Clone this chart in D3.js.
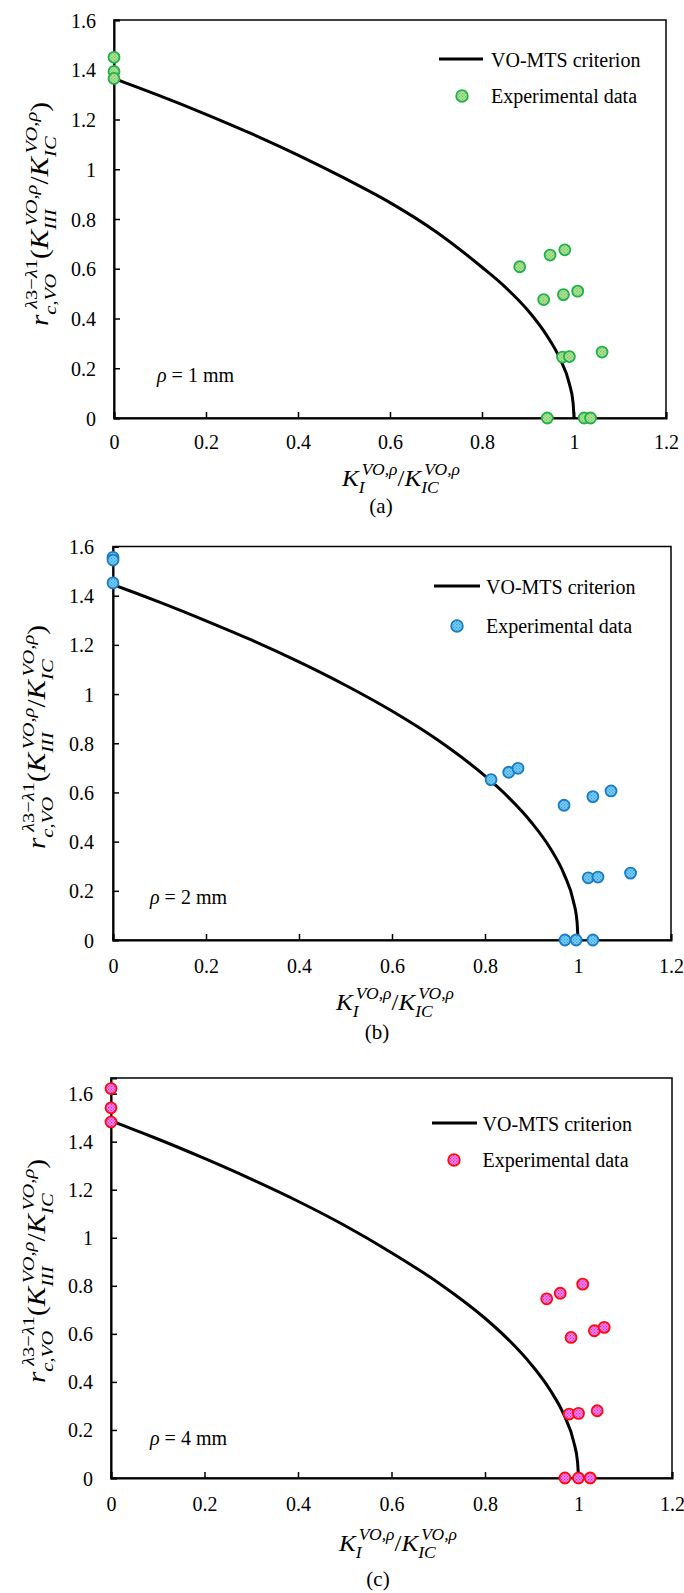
<!DOCTYPE html>
<html><head><meta charset="utf-8">
<script src="https://cdn.jsdelivr.net/npm/d3@7"></script>
<style>body{margin:0;background:#fff}svg{display:block}</style>
</head><body>
<svg id="c" width="684" height="1593" font-family="Liberation Serif"></svg>
<script>
// ---------------- data ----------------
const xTicks = [0, 0.2, 0.4, 0.6, 0.8, 1, 1.2];
const yTicks = [0, 0.2, 0.4, 0.6, 0.8, 1, 1.2, 1.4, 1.6];
const panelTags = ["(a)", "(b)", "(c)"];
const rhoLabels = ["\u03C1 = 1 mm", "\u03C1 = 2 mm", "\u03C1 = 4 mm"];
const legendNames = ["VO-MTS criterion", "Experimental data"];

// VO-MTS criterion curves
const curveX = [0, 0.05, 0.1, 0.2, 0.3, 0.4, 0.5, 0.6, 0.7, 0.8, 0.85, 0.9, 0.94, 0.97, 0.99, 0.998, 1];
const curveA = [1.365, 1.330, 1.295, 1.221, 1.142, 1.057, 0.965, 0.866, 0.749, 0.606, 0.527, 0.432, 0.334, 0.236, 0.137, 0.061, 0];
const curveB = [1.445, 1.410, 1.374, 1.298, 1.218, 1.131, 1.036, 0.931, 0.811, 0.667, 0.581, 0.478, 0.374, 0.268, 0.158, 0.073, 0];
const curveC = [1.487, 1.449, 1.411, 1.330, 1.244, 1.152, 1.051, 0.938, 0.813, 0.665, 0.576, 0.470, 0.364, 0.258, 0.149, 0.066, 0];

// Experimental data
const expAx = [0, 0, 0, 0.882, 0.948, 0.980, 0.934, 0.977, 1.008, 0.975, 0.990, 1.061, 0.942, 1.022, 1.036];
const expAy = [1.45, 1.393, 1.365, 0.608, 0.655, 0.676, 0.476, 0.496, 0.510, 0.245, 0.247, 0.265, 0, 0, 0];
const expBx = [0, 0, 0, 0.813, 0.851, 0.871, 0.970, 1.032, 1.071, 1.022, 1.043, 1.113, 0.972, 0.996, 1.032];
const expBy = [1.556, 1.545, 1.452, 0.652, 0.682, 0.698, 0.548, 0.583, 0.606, 0.253, 0.256, 0.272, 0, 0, 0];
const expCx = [0, 0, 0, 0.932, 0.961, 1.009, 0.984, 1.034, 1.055, 0.980, 1.000, 1.040, 0.971, 1.000, 1.025];
const expCy = [1.621, 1.541, 1.482, 0.746, 0.769, 0.807, 0.585, 0.613, 0.627, 0.266, 0.269, 0.280, 0, 0, 0];

const yMaxes = [1.6, 1.6, 1.665];

// ---------------- drawing ----------------
const FONT = "Liberation Serif";
const svg = d3.select("#c");
svg.append("rect").attr("width", 684).attr("height", 1593).attr("fill", "#fff");
const defs = svg.append("defs");

const palettes = [
  {bg: "#b4e39c", dot: "#72c45a", stroke: "#1fb14a"},
  {bg: "#7ed0f6", dot: "#2f9fdc", stroke: "#1a7cc6"},
  {bg: "#ff84f0", dot: "#c82fc0", stroke: "#ff0a0a"}
];
palettes.forEach((p, i) => {
  const pat = defs.append("pattern").attr("id", "pat" + i)
    .attr("patternUnits", "userSpaceOnUse").attr("width", 3).attr("height", 3);
  pat.append("rect").attr("width", 3).attr("height", 3).attr("fill", p.bg);
  pat.append("rect").attr("x", 0).attr("y", 0).attr("width", 1.2).attr("height", 1.2).attr("fill", p.dot);
  pat.append("rect").attr("x", 1.5).attr("y", 1.5).attr("width", 1.2).attr("height", 1.2).attr("fill", p.dot);
});

function txt(sel) { return sel.attr("font-family", FONT).attr("fill", "#000"); }

// math label: main text with stacked sub/superscripts
function mathLabel(parent, segs, fs) {
  const g = parent.append("g");
  let x = 0, inScript = false, subX = 0, supX = 0;
  segs.forEach(s => {
    const isMain = s.type === "main";
    const size = isMain ? fs : fs * 0.7;
    const dy = s.type === "sub" ? fs * 0.3 : (s.type === "sup" ? -fs * 0.45 : 0);
    let startX;
    if (isMain) {
      if (inScript) { x = Math.max(subX, supX); inScript = false; }
      startX = x;
    } else {
      if (!inScript) { inScript = true; subX = x; supX = x; }
      if (s.type === "sub") startX = subX; else startX = supX + (s.shift || 0);
    }
    const t = txt(g.append("text")).attr("x", startX).attr("y", dy)
      .attr("font-size", size).attr("font-style", s.up ? "normal" : "italic").text(s.t);
    const w = t.node().getComputedTextLength();
    if (isMain) x = startX + w;
    else if (s.type === "sub") subX = startX + w;
    else supX = startX + w;
  });
  if (inScript) x = Math.max(subX, supX);
  return {g, width: x};
}

const panels = [
  {L:114, R:666, T:20, B:418, tickY:442, ylabR:96, yTitX:48, yTitY:214,
   leg:[439,483,59], legTx:491, marker:[462,96], rho:[157,382], xTit:[401,486], tag:[381,513],
   cx:curveX, cy:curveA, ex:expAx, ey:expAy},
  {L:113, R:671, T:546.5, B:940, tickY:966, ylabR:94, yTitX:45, yTitY:737,
   leg:[434,480,586], legTx:486, marker:[457,626], rho:[150,904], xTit:[395,1010], tag:[377,1039],
   cx:curveX, cy:curveB, ex:expBx, ey:expBy},
  {L:111, R:672, T:1078, B:1478, tickY:1504, ylabR:93, yTitX:45, yTitY:1271,
   leg:[432,477,1123], legTx:482.5, marker:[454,1160], rho:[150,1445], xTit:[398,1551], tag:[378,1586],
   cx:curveX, cy:curveC, ex:expCx, ey:expCy}
];

panels.forEach((P, i) => {
  const pal = palettes[i];
  const x = d3.scaleLinear().domain([0, 1.2]).range([P.L, P.R]);
  const y = d3.scaleLinear().domain([0, yMaxes[i]]).range([P.B, P.T]);
  const g = svg.append("g");
  const fmt = d => (d === 0 ? "0" : (d === 1 ? "1" : d3.format(".1f")(d)));

  // frame
  g.append("rect").attr("x", P.L).attr("y", P.T).attr("width", P.R - P.L).attr("height", P.B - P.T)
    .attr("fill", "none").attr("stroke", "#000").attr("stroke-width", 1.5);

  // axes (ticks inside)
  const xa = g.append("g").attr("transform", `translate(0,${P.B})`)
    .call(d3.axisBottom(x).tickValues(xTicks).tickSize(-6).tickFormat(fmt));
  xa.attr("font-family", FONT).attr("font-size", 20);
  xa.select(".domain").attr("stroke-width", 2);
  xa.selectAll(".tick line").attr("stroke-width", 1.5);
  txt(xa.selectAll(".tick text")).attr("font-size", 20)
    .attr("y", P.tickY - P.B).attr("dy", "0.35em");

  const ya = g.append("g").attr("transform", `translate(${P.L},0)`)
    .call(d3.axisLeft(y).tickValues(yTicks).tickSize(-6).tickFormat(fmt));
  ya.attr("font-family", FONT).attr("font-size", 20);
  ya.select(".domain").attr("stroke-width", 2);
  ya.selectAll(".tick line").attr("stroke-width", 1.5);
  txt(ya.selectAll(".tick text")).attr("font-size", 20)
    .attr("x", P.ylabR - P.L).attr("dy", "0.35em");

  // curve
  const pts = P.cx.map((v, k) => [v, P.cy[k]]);
  g.append("path").datum(pts)
    .attr("d", d3.line().x(d => x(d[0])).y(d => y(d[1])).curve(d3.curveMonotoneX))
    .attr("fill", "none").attr("stroke", "#000").attr("stroke-width", 3);

  // points
  g.selectAll("circle.pt").data(P.ex.map((v, k) => [v, P.ey[k]])).join("circle")
    .attr("class", "pt").attr("cx", d => x(d[0])).attr("cy", d => y(d[1])).attr("r", 5.5)
    .attr("fill", `url(#pat${i})`).attr("stroke", pal.stroke).attr("stroke-width", 1.8);

  // legend
  g.append("line").attr("x1", P.leg[0]).attr("x2", P.leg[1]).attr("y1", P.leg[2]).attr("y2", P.leg[2])
    .attr("stroke", "#000").attr("stroke-width", 3);
  txt(g.append("text")).attr("x", P.legTx).attr("y", P.leg[2] + 7.5)
    .attr("font-size", 20).text(legendNames[0]);
  g.append("circle").attr("cx", P.marker[0]).attr("cy", P.marker[1]).attr("r", 5.8)
    .attr("fill", `url(#pat${i})`).attr("stroke", pal.stroke).attr("stroke-width", 1.8);
  txt(g.append("text")).attr("x", P.legTx).attr("y", P.marker[1] + 7)
    .attr("font-size", 20).text(legendNames[1]);

  // rho label
  const rt = txt(g.append("text")).attr("x", P.rho[0]).attr("y", P.rho[1]).attr("font-size", 20);
  rt.append("tspan").attr("font-style", "italic").text(rhoLabels[i].slice(0, 1));
  rt.append("tspan").text(rhoLabels[i].slice(1));

  // x title (stretched to the reference width)
  const xt = mathLabel(g, [
    {t: "K", type: "main"}, {t: "I", type: "sub"}, {t: "VO,\u03C1", type: "sup", shift: 3},
    {t: "/", type: "main", up: true},
    {t: "K", type: "main"}, {t: "IC", type: "sub"}, {t: "VO,\u03C1", type: "sup", shift: 3}
  ], 24);
  const xs = 118 / xt.width;
  xt.g.attr("transform", `translate(${P.xTit[0] - 59},${P.xTit[1]}) scale(${xs},1)`);

  // tag
  txt(g.append("text")).attr("x", P.tag[0]).attr("y", P.tag[1]).attr("text-anchor", "middle")
    .attr("font-size", 21).text(panelTags[i]);

  // y title (stretched along its length to the reference)
  const yt = mathLabel(g, [
    {t: "r", type: "main"}, {t: "c,VO", type: "sub"},
    {t: "\u03BB", type: "sup", shift: 5}, {t: "3\u2212", type: "sup", up: true},
    {t: "\u03BB", type: "sup"}, {t: "1", type: "sup", up: true},
    {t: "(", type: "main", up: true},
    {t: "K", type: "main"}, {t: "III", type: "sub"}, {t: "VO,\u03C1", type: "sup", shift: 3},
    {t: "/", type: "main", up: true},
    {t: "K", type: "main"}, {t: "IC", type: "sub"}, {t: "VO,\u03C1", type: "sup", shift: 3},
    {t: ")", type: "main", up: true}
  ], 25);
  const ys = 224 / yt.width;
  yt.g.attr("transform", `translate(${P.yTitX},${P.yTitY}) rotate(-90) translate(-112,0) scale(${ys},1)`);
});
</script>
</body></html>
